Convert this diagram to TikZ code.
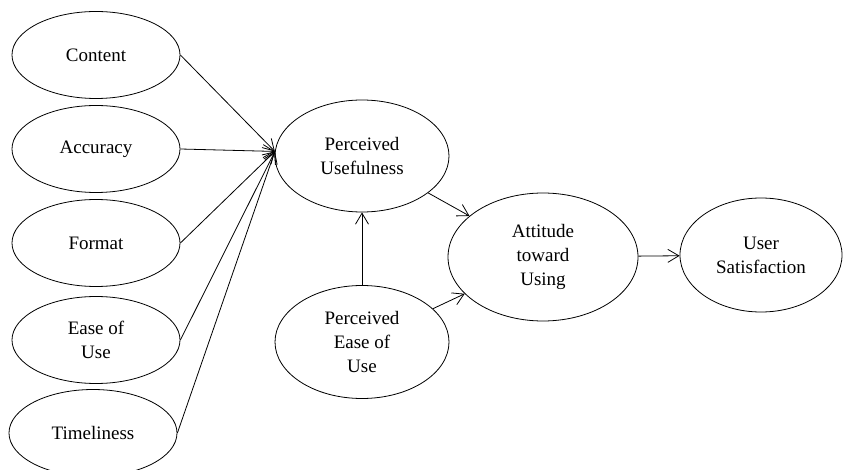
\documentclass[tikz,border=0pt]{standalone}
\usepackage{fontspec}
\setmainfont{Liberation Serif}
\usetikzlibrary{arrows.meta,positioning,shapes.geometric}

\begin{document}
\begin{tikzpicture}[x=1pt,y=-1pt,every node/.style={font=\fontsize{19}{24}\selectfont},
 e/.style={draw,ellipse,line width=0.8pt,align=center,inner sep=0pt,minimum width=168,minimum height=87},
 arr/.style={-{Straight Barb[length=11pt,width=13pt]},line width=0.8pt}]
\useasboundingbox (0,0) rectangle (843,470);
\node[e] (cont) at (96,55) {Content};
\node[e] (acc) at (96,149) {Accuracy};
\node[e] (fmt) at (96,243) {Format};
\node[e] (eou) at (96,340) {Ease of\\ Use};
\node[e] (tim) at (93,433) {Timeliness};
\node[e,minimum width=174,minimum height=112] (pu) at (362,156) {Perceived\\ Usefulness};
\node[e,minimum width=174,minimum height=113] (peou) at (362,342) {Perceived\\ Ease of\\ Use};
\node[e,minimum width=190,minimum height=128] (atu) at (543,257) {Attitude\\ toward\\ Using};
\node[e,minimum width=162,minimum height=114] (us) at (761,255) {User\\ Satisfaction};
\foreach \n in {cont,acc,fmt,eou,tim} \draw[arr] (\n.east)--(pu.177);
\draw[arr](peou)--(pu);\draw[arr](pu)--(atu);\draw[arr](peou)--(atu);\draw[arr](atu)--(us);
\end{tikzpicture}
\end{document}
